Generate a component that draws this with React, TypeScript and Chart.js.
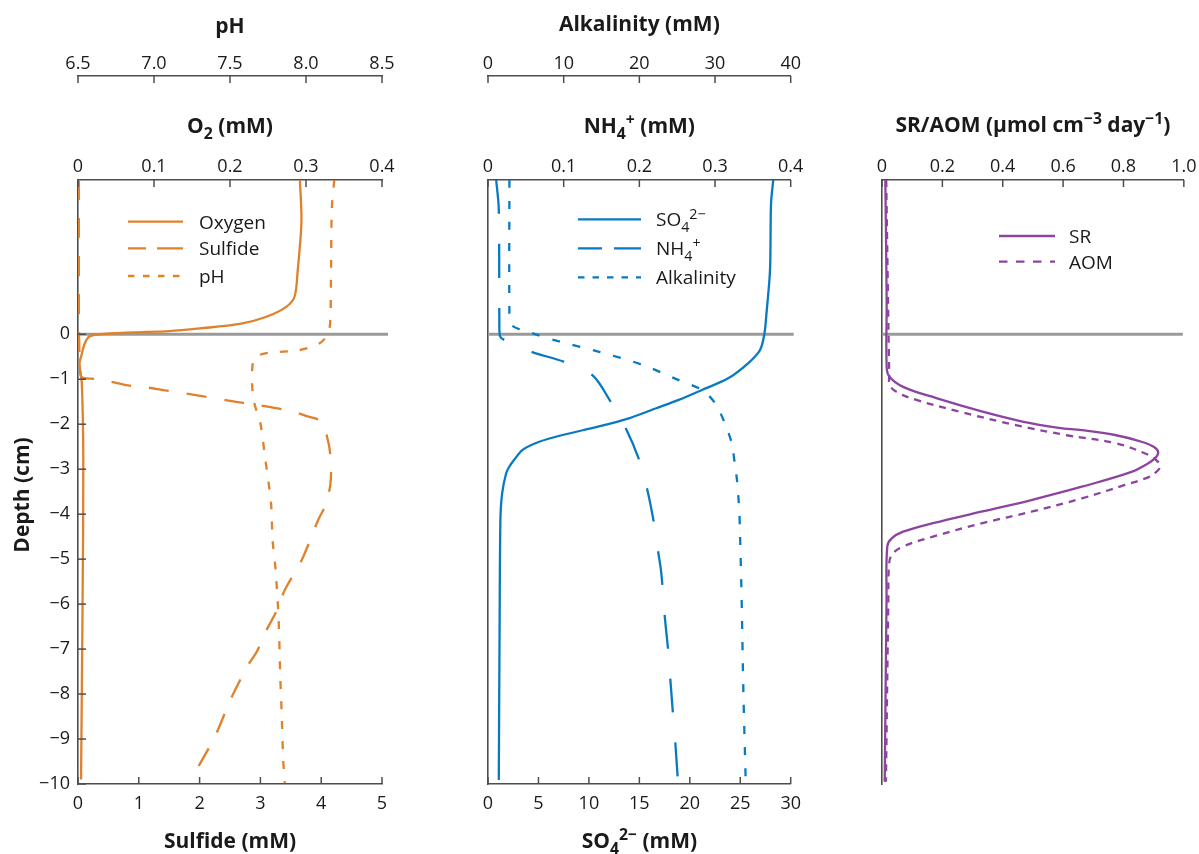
import React, { useEffect, useRef } from "react";
import { Chart, registerables } from "chart.js";

Chart.register(...registerables);

// ---------------- Tick values and labels ----------------
const depthTicks = [0, -1, -2, -3, -4, -5, -6, -7, -8, -9, -10];
const depthTickLabels = ["0", "−1", "−2", "−3", "−4", "−5", "−6", "−7", "−8", "−9", "−10"];
const depthMin = -10;
const depthMax = 3.43; // water column shown above the sediment surface

const phTicks = [6.5, 7.0, 7.5, 8.0, 8.5];
const phTickLabels = ["6.5", "7.0", "7.5", "8.0", "8.5"];
const o2Ticks = [0, 0.1, 0.2, 0.3, 0.4];
const o2TickLabels = ["0", "0.1", "0.2", "0.3", "0.4"];
const sulfideTicks = [0, 1, 2, 3, 4, 5];
const sulfideTickLabels = ["0", "1", "2", "3", "4", "5"];

const alkTicks = [0, 10, 20, 30, 40];
const alkTickLabels = ["0", "10", "20", "30", "40"];
const nh4Ticks = [0, 0.1, 0.2, 0.3, 0.4];
const nh4TickLabels = ["0", "0.1", "0.2", "0.3", "0.4"];
const so4Ticks = [0, 5, 10, 15, 20, 25, 30];
const so4TickLabels = ["0", "5", "10", "15", "20", "25", "30"];

const rateTicks = [0, 0.2, 0.4, 0.6, 0.8, 1.0];
const rateTickLabels = ["0", "0.2", "0.4", "0.6", "0.8", "1.0"];

// ---------------- Series (depth in cm, value) ----------------
const oxygenDepth = [3.43, 2.5, 1.4, 0.84, 0.61, 0.39, 0.23, 0.13, 0.07, 0.04, 0.0, -0.05, -0.2, -0.5, -0.65, -1.08, -2.8, -6.0, -9.9];
const oxygenValues = [0.292, 0.294, 0.289, 0.285, 0.274, 0.248, 0.213, 0.16, 0.12, 0.072, 0.028, 0.015, 0.009, 0.004, 0.002, 0.005, 0.007, 0.006, 0.004];

const sulfideDepth = [3.43, 0.3, -0.5, -0.9, -0.97, -1.0, -1.13, -1.18, -1.24, -1.39, -1.48, -1.57, -1.72, -1.82, -1.94, -2.42, -2.87, -3.35, -3.83, -4.13, -5.02, -5.69, -6.17, -6.58, -7.06, -7.35, -8.09, -8.95, -9.8];
const sulfideValues = [0.015, 0.015, 0.025, 0.04, 0.08, 0.35, 0.79, 1.12, 1.4, 2.11, 2.5, 2.94, 3.54, 3.76, 4.0, 4.12, 4.16, 4.15, 4.06, 3.95, 3.68, 3.4, 3.26, 3.1, 2.94, 2.8, 2.52, 2.25, 1.9];

const phDepth = [3.43, 2.8, 1.5, 0.32, 0.02, -0.2, -0.35, -0.42, -0.5, -0.64, -1.09, -1.53, -1.98, -2.72, -3.76, -4.57, -5.24, -6.35, -7.54, -8.43, -9.47, -9.98];
const phValues = [8.186, 8.17, 8.165, 8.16, 8.146, 8.09, 7.96, 7.74, 7.67, 7.65, 7.645, 7.66, 7.7, 7.73, 7.77, 7.78, 7.8, 7.82, 7.83, 7.84, 7.85, 7.86];

const so4Depth = [3.43, 2.91, 1.43, 0.47, 0.02, -0.35, -0.64, -0.98, -1.24, -1.46, -1.65, -1.87, -2.05, -2.24, -2.39, -2.57, -2.79, -2.94, -3.09, -3.54, -4.13, -6.5, -9.91];
const so4Values = [28.27, 28.05, 27.95, 27.6, 27.4, 26.96, 25.8, 23.8, 21.2, 18.9, 16.6, 13.96, 11.0, 7.38, 5.08, 3.43, 2.6, 2.12, 1.8, 1.4, 1.23, 1.15, 1.07];

const nh4Depth = [3.43, 2.8, 0.32, -0.05, -0.13, -0.39, -0.61, -0.91, -1.5, -2.09, -2.76, -3.42, -4.17, -4.83, -5.31, -6.28, -7.02, -7.69, -8.35, -9.1, -9.87];
const nh4Values = [0.0108, 0.0142, 0.015, 0.016, 0.022, 0.057, 0.1, 0.138, 0.162, 0.182, 0.199, 0.21, 0.219, 0.2248, 0.229, 0.2336, 0.238, 0.241, 0.244, 0.2476, 0.2507];

const alkDepth = [3.43, 0.54, 0.21, 0.02, -0.16, -0.39, -0.68, -1.02, -1.24, -1.53, -1.98, -2.42, -2.94, -3.24, -3.91, -4.43, -5.76, -7.98, -9.91];
const alkValues = [2.83, 2.83, 3.05, 5.9, 9.4, 14.67, 20.4, 25.2, 28.3, 30.0, 31.3, 32.2, 32.66, 32.9, 33.2, 33.3, 33.5, 33.75, 34.05];

const srDepth = [3.43, 0.76, -0.72, -0.94, -1.17, -1.42, -1.72, -1.94, -2.08, -2.13, -2.24, -2.39, -2.5, -2.62, -2.76, -2.91, -3.06, -3.39, -3.68, -3.94, -4.2, -4.39, -4.54, -4.72, -5.91, -9.95];
const srValues = [0.011, 0.0154, 0.0154, 0.024, 0.07, 0.18, 0.333, 0.465, 0.586, 0.662, 0.772, 0.86, 0.9, 0.915, 0.904, 0.871, 0.827, 0.662, 0.498, 0.333, 0.169, 0.07, 0.032, 0.0175, 0.015, 0.009];

const aomDepth = [3.43, -0.9, -1.13, -1.28, -1.46, -1.72, -2.02, -2.24, -2.42, -2.68, -2.82, -2.95, -3.08, -3.2, -3.35, -3.65, -3.94, -4.2, -4.5, -4.72, -4.91, -5.17, -5.91, -9.95];
const aomValues = [0.014, 0.024, 0.026, 0.048, 0.114, 0.257, 0.443, 0.608, 0.772, 0.882, 0.912, 0.921, 0.905, 0.875, 0.805, 0.662, 0.498, 0.333, 0.169, 0.07, 0.032, 0.023, 0.021, 0.013];

// ---------------- Styling ----------------
const ORANGE = "#E0812C";
const BLUE = "#077AC1";
const PURPLE = "#8C449F";
const ZERO_GRAY = "#9a9a9a";
const AXIS = "#4d4d4d";
const TEXT = "#1a1a1a";
const FONT = "'Open Sans', 'Noto Sans', sans-serif";
const TICK_FONT = { family: FONT, size: 18 };
const TITLE_SIZE = 21;
const LEGEND_SIZE = 19;
const H = 854;

type Seg = { t: string; k?: "sub" | "sup" };
type TitleSpec = { segs: Seg[]; scale?: string; x?: number; y: number; rotate?: boolean };
type LegendItem = { segs: Seg[]; color: string; dash: number[]; dy: number };
type DecoCfg = {
  titles: TitleSpec[];
  legend: { x1: number; x2: number; tx: number; items: LegendItem[] };
  tickScales: string[];
  zeroExtend: number;
};

const pts = (vals: number[], depth: number[]) => vals.map((v, i) => ({ x: v, y: depth[i] }));

function richWidth(ctx: CanvasRenderingContext2D, segs: Seg[], size: number, weight: string) {
  let w = 0;
  for (const s of segs) {
    const sz = s.k ? size * 0.75 : size;
    ctx.font = `${weight} ${sz}px ${FONT}`;
    w += ctx.measureText(s.t).width;
  }
  return w;
}

function drawRich(ctx: CanvasRenderingContext2D, segs: Seg[], x: number, y: number, size: number, weight: string, align: "center" | "left") {
  const w = richWidth(ctx, segs, size, weight);
  let cx = align === "center" ? x - w / 2 : x;
  ctx.textAlign = "left";
  ctx.textBaseline = "alphabetic";
  ctx.fillStyle = TEXT;
  for (const s of segs) {
    const sz = s.k ? size * 0.75 : size;
    ctx.font = `${weight} ${sz}px ${FONT}`;
    const dy = s.k === "sub" ? size * 0.33 : s.k === "sup" ? -size * 0.36 : 0;
    ctx.fillText(s.t, cx, y + dy);
    cx += ctx.measureText(s.t).width;
  }
}

function makeDeco(cfg: DecoCfg) {
  return {
    id: "deco",
    beforeDatasetsDraw(chart: any) {
      const { ctx, chartArea } = chart;
      const y0 = chart.scales.y.getPixelForValue(0);
      ctx.save();
      ctx.strokeStyle = ZERO_GRAY;
      ctx.lineWidth = 3;
      ctx.beginPath();
      ctx.moveTo(chartArea.left, y0);
      ctx.lineTo(chartArea.right + cfg.zeroExtend, y0);
      ctx.stroke();
      ctx.restore();
    },
    afterDraw(chart: any) {
      const { ctx, chartArea } = chart;
      ctx.save();
      // inward tick marks
      ctx.strokeStyle = AXIS;
      ctx.lineWidth = 1.5;
      for (const id of cfg.tickScales) {
        const s = chart.scales[id];
        for (const t of s.ticks) {
          const p = s.getPixelForValue(t.value);
          ctx.beginPath();
          if (s.position === "left") {
            ctx.moveTo(s.right, p);
            ctx.lineTo(s.right + 8, p);
          } else if (s.position === "top") {
            ctx.moveTo(p, s.bottom);
            ctx.lineTo(p, s.bottom + 7);
          } else {
            ctx.moveTo(p, s.top);
            ctx.lineTo(p, s.top - 7);
          }
          ctx.stroke();
        }
      }
      // titles
      for (const t of cfg.titles) {
        if (t.rotate) {
          ctx.save();
          ctx.translate(t.x as number, t.y);
          ctx.rotate(-Math.PI / 2);
          drawRich(ctx, t.segs, 0, 0, TITLE_SIZE, "bold", "center");
          ctx.restore();
        } else {
          const s = chart.scales[t.scale as string];
          drawRich(ctx, t.segs, (s.left + s.right) / 2, t.y, TITLE_SIZE, "bold", "center");
        }
      }
      // legend
      const L = cfg.legend;
      for (const it of L.items) {
        const y = chartArea.top + it.dy;
        ctx.strokeStyle = it.color;
        ctx.lineWidth = 2.3;
        ctx.setLineDash(it.dash);
        ctx.beginPath();
        ctx.moveTo(chartArea.left + L.x1, y);
        ctx.lineTo(chartArea.left + L.x2, y);
        ctx.stroke();
        ctx.setLineDash([]);
        drawRich(ctx, it.segs, chartArea.left + L.tx, y + 6.8, LEGEND_SIZE, "normal", "left");
      }
      ctx.restore();
    },
  };
}

function xScale(position: string, min: number, max: number, ticks: number[], labels: string[], height: number, weight: number, padding: number) {
  return {
    type: "linear",
    axis: "x",
    position,
    min,
    max,
    weight,
    afterBuildTicks: (s: any) => {
      s.ticks = ticks.map((v) => ({ value: v }));
    },
    afterFit: (s: any) => {
      s.height = height;
    },
    grid: { display: true, drawOnChartArea: false, drawTicks: false },
    border: { display: true, color: AXIS, width: 1.6 },
    ticks: {
      autoSkip: false,
      maxRotation: 0,
      padding,
      font: TICK_FONT,
      color: TEXT,
      callback: (_v: any, i: number) => labels[i],
    },
  };
}

function yScale(showLabels: boolean, width: number) {
  return {
    type: "linear",
    axis: "y",
    position: "left",
    min: depthMin,
    max: depthMax,
    afterBuildTicks: (s: any) => {
      s.ticks = depthTicks.map((v) => ({ value: v }));
    },
    afterFit: (s: any) => {
      s.width = width;
    },
    grid: { display: true, drawOnChartArea: false, drawTicks: false },
    border: { display: true, color: AXIS, width: 1.6 },
    ticks: {
      display: showLabels,
      autoSkip: false,
      padding: 8,
      font: TICK_FONT,
      color: TEXT,
      callback: (_v: any, i: number) => depthTickLabels[i],
    },
  };
}

function ds(label: string, data: any[], xAxisID: string, color: string, dash: number[], tension = 0.3) {
  return {
    label,
    data,
    xAxisID,
    yAxisID: "y",
    borderColor: color,
    backgroundColor: color,
    borderWidth: 2.3,
    borderDash: dash,
    pointRadius: 0,
    showLine: true,
    fill: false,
    tension,
  };
}

function baseOptions(padRight: number, padBottom: number, scales: any) {
  return {
    responsive: false,
    maintainAspectRatio: false,
    animation: false,
    events: [],
    layout: { padding: { left: 0, right: padRight, top: 0, bottom: padBottom } },
    plugins: { legend: { display: false }, tooltip: { enabled: false }, title: { display: false } },
    scales,
  };
}

function configPanel1(): any {
  return {
    type: "scatter",
    data: {
      datasets: [
        ds("Oxygen", pts(oxygenValues, oxygenDepth), "xO2", ORANGE, []),
        ds("Sulfide", pts(sulfideValues, sulfideDepth), "xS", ORANGE, [20, 18]),
        ds("pH", pts(phValues, phDepth), "xPH", ORANGE, [8, 12]),
      ],
    },
    options: baseOptions(18, 0, {
      y: yScale(true, 78),
      xPH: xScale("top", 6.5, 8.5, phTicks, phTickLabels, 76, 2, 1.5),
      xO2: xScale("top", 0, 0.4, o2Ticks, o2TickLabels, 104, 1, 2.5),
      xS: xScale("bottom", 0, 5, sulfideTicks, sulfideTickLabels, 70, 1, 9),
    }),
    plugins: [
      makeDeco({
        titles: [
          { segs: [{ t: "pH" }], scale: "xPH", y: 32.5 },
          { segs: [{ t: "O" }, { t: "2", k: "sub" }, { t: " (mM)" }], scale: "xO2", y: 132.5 },
          { segs: [{ t: "Sulfide (mM)" }], scale: "xS", y: 847.5 },
          { segs: [{ t: "Depth (cm)" }], x: 28.5, y: 495, rotate: true },
        ],
        legend: {
          x1: 50,
          x2: 105,
          tx: 121,
          items: [
            { segs: [{ t: "Oxygen" }], color: ORANGE, dash: [], dy: 41.7 },
            { segs: [{ t: "Sulfide" }], color: ORANGE, dash: [18, 11, 30, 11], dy: 68.3 },
            { segs: [{ t: "pH" }], color: ORANGE, dash: [6.5, 8.5], dy: 96 },
          ],
        },
        tickScales: ["y", "xPH", "xO2", "xS"],
        zeroExtend: 6,
      }),
    ],
  };
}

function configPanel2(): any {
  return {
    type: "scatter",
    data: {
      datasets: [
        ds("SO4", pts(so4Values, so4Depth), "xSO4", BLUE, []),
        ds("NH4", pts(nh4Values, nh4Depth), "xNH4", BLUE, [34, 30]),
        ds("Alkalinity", pts(alkValues, alkDepth), "xALK", BLUE, [8, 13]),
      ],
    },
    options: baseOptions(18, 0, {
      y: yScale(false, 88),
      xALK: xScale("top", 0, 40, alkTicks, alkTickLabels, 76, 2, 1.5),
      xNH4: xScale("top", 0, 0.4, nh4Ticks, nh4TickLabels, 104, 1, 2.5),
      xSO4: xScale("bottom", 0, 30, so4Ticks, so4TickLabels, 70, 1, 9),
    }),
    plugins: [
      makeDeco({
        titles: [
          { segs: [{ t: "Alkalinity (mM)" }], scale: "xALK", y: 30.5 },
          { segs: [{ t: "NH" }, { t: "4", k: "sub" }, { t: "+", k: "sup" }, { t: " (mM)" }], scale: "xNH4", y: 132.5 },
          { segs: [{ t: "SO" }, { t: "4", k: "sub" }, { t: "2−", k: "sup" }, { t: " (mM)" }], scale: "xSO4", y: 847.5 },
        ],
        legend: {
          x1: 90,
          x2: 153,
          tx: 168,
          items: [
            { segs: [{ t: "SO" }, { t: "4", k: "sub" }, { t: "2−", k: "sup" }], color: BLUE, dash: [], dy: 39.3 },
            { segs: [{ t: "NH" }, { t: "4", k: "sub" }, { t: "+", k: "sup" }], color: BLUE, dash: [24, 12, 30, 12], dy: 68.3 },
            { segs: [{ t: "Alkalinity" }], color: BLUE, dash: [6.5, 8], dy: 97.3 },
          ],
        },
        tickScales: ["xALK", "xNH4", "xSO4"],
        zeroExtend: 3,
      }),
    ],
  };
}

function configPanel3(): any {
  return {
    type: "scatter",
    data: {
      datasets: [
        ds("SR", pts(srValues, srDepth), "xRATE", PURPLE, [], 0.4),
        ds("AOM", pts(aomValues, aomDepth), "xRATE", PURPLE, [7, 6], 0.4),
      ],
    },
    options: baseOptions(13, 70, {
      y: yScale(false, 72),
      xRATE: xScale("top", 0, 1, rateTicks, rateTickLabels, 180, 1, 2.5),
    }),
    plugins: [
      makeDeco({
        titles: [
          {
            segs: [{ t: "SR/AOM (μmol cm" }, { t: "−3", k: "sup" }, { t: " day" }, { t: "−1", k: "sup" }, { t: ")" }],
            scale: "xRATE",
            y: 131.5,
          },
        ],
        legend: {
          x1: 117,
          x2: 173,
          tx: 187,
          items: [
            { segs: [{ t: "SR" }], color: PURPLE, dash: [], dy: 56 },
            { segs: [{ t: "AOM" }], color: PURPLE, dash: [8.5, 8.5], dy: 81.7 },
          ],
        },
        tickScales: ["xRATE"],
        zeroExtend: -1,
      }),
    ],
  };
}

function Panel({ left, width, build }: { left: number; width: number; build: () => any }) {
  const ref = useRef<HTMLCanvasElement>(null);
  useEffect(() => {
    const chart = new Chart(ref.current as HTMLCanvasElement, build());
    return () => chart.destroy();
  }, [build]);
  return (
    <canvas
      ref={ref}
      width={width}
      height={H}
      style={{ position: "absolute", left, top: 0, width, height: H, display: "block" }}
    />
  );
}

export default function App() {
  return (
    <div style={{ position: "absolute", left: 0, top: 0, width: 1199, height: H, background: "#fff", overflow: "hidden" }}>
      <Panel left={0} width={400} build={configPanel1} />
      <Panel left={400} width={410} build={configPanel2} />
      <Panel left={810} width={389} build={configPanel3} />
    </div>
  );
}
